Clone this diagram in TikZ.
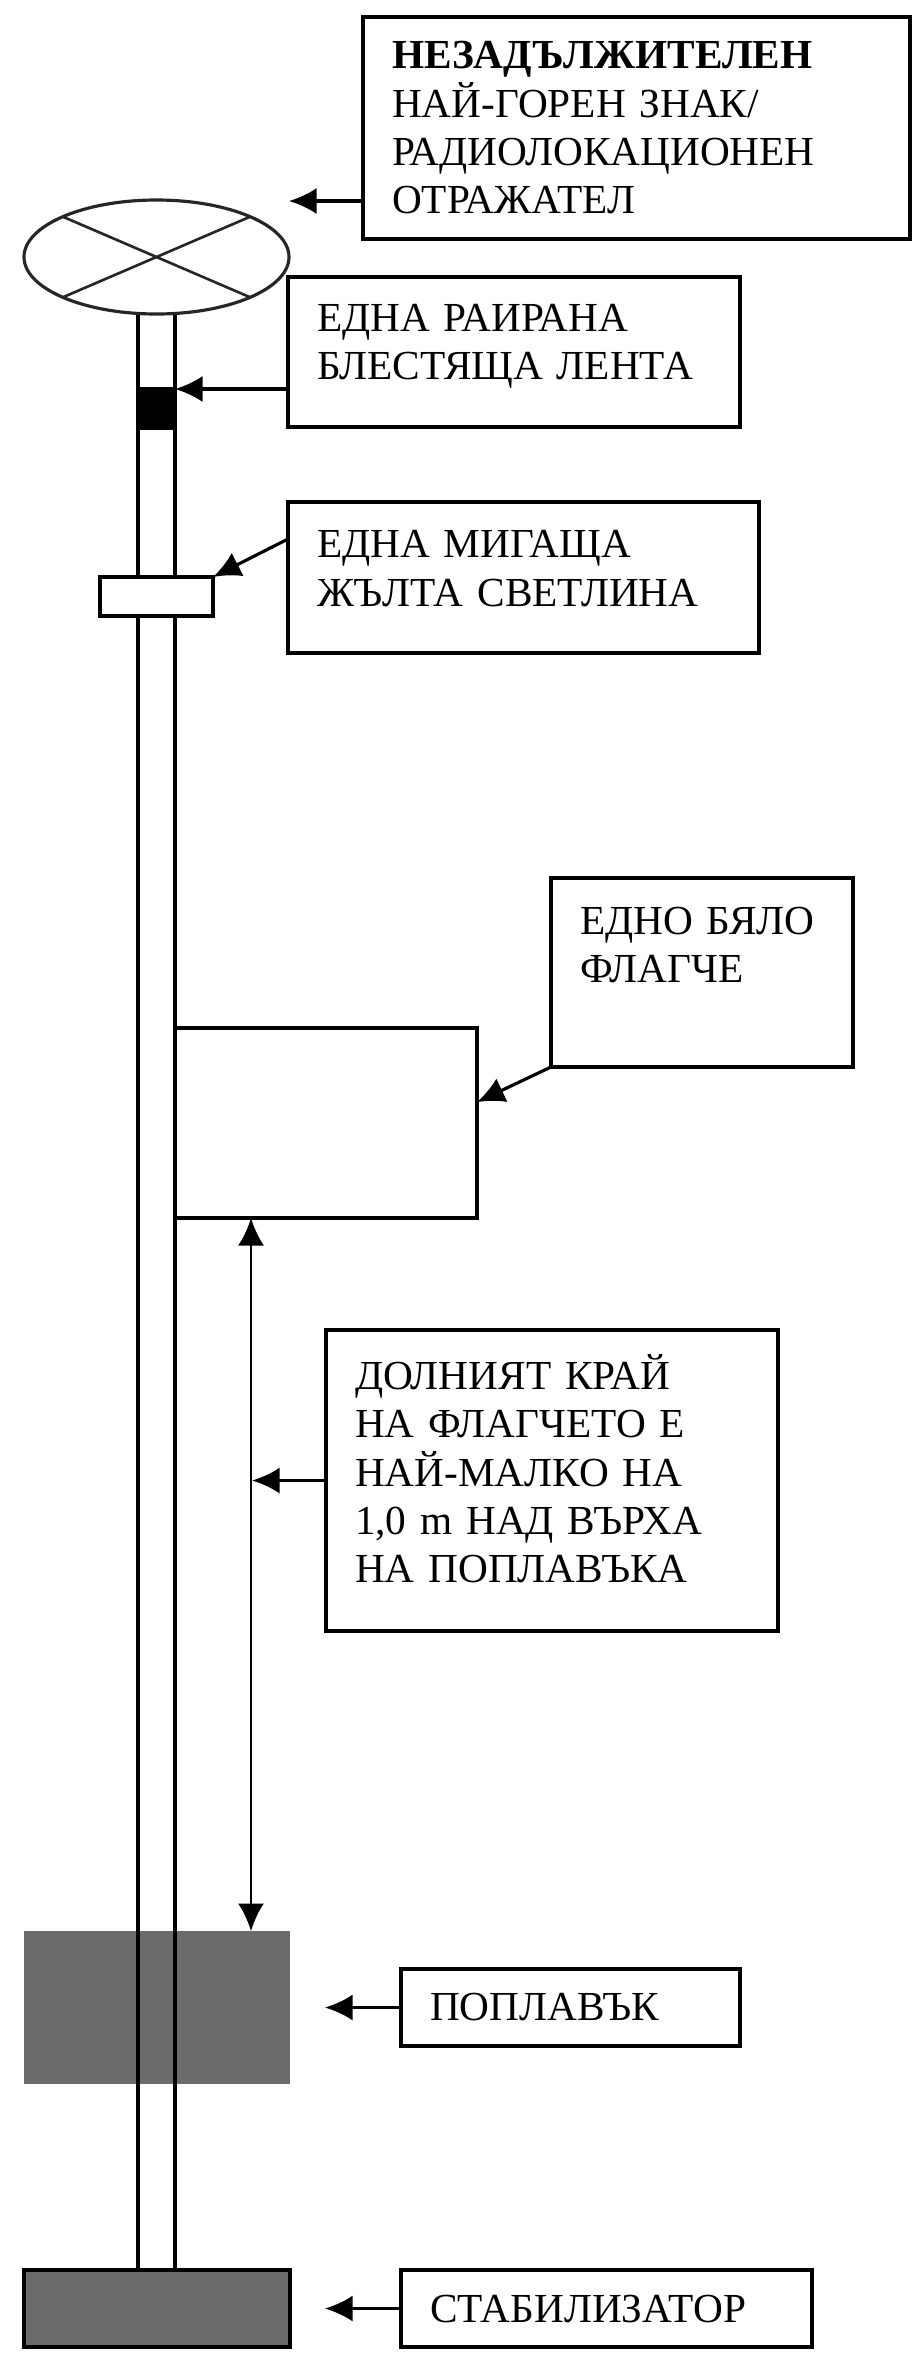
\documentclass[tikz,border=0pt]{standalone}
\usepackage{fontspec}
\setmainfont{Liberation Serif}
\usetikzlibrary{shapes.geometric, arrows.meta, calc}
\definecolor{BuoyGray}{HTML}{6B6B6B}
\newcommand{\lifttext}[1]{\rule[-#1]{0pt}{0pt}}
\tikzset{
    % Boxes with text
    labelbox/.style={
        rectangle,
        draw=black,
        fill=white,
        line width=1.8pt,
        outer sep=0pt,
        inner xsep=0.58cm,
        inner ysep=0pt,
        align=left,
        font=\fontsize{23.5}{27.5}\selectfont
    },
    % Parts of the mast
    partbox/.style={
        rectangle,
        draw=black,
        fill=white,
        line width=1.8pt,
        outer sep=0pt,
        inner sep=0pt
    },
    darkbox/.style={
        partbox,
        fill=BuoyGray
    },
    % Arrows
    arrow/.style={
        ->,
        >={Latex[length=0.55cm,width=0.52cm]},
        line width=1.8pt,
        draw=black
    }
}
\begin{document}
\begin{tikzpicture}
    \useasboundingbox (0,0) rectangle (18.42,-47.24);

    % Float goes under the mast
    \node[partbox, draw=none, fill=BuoyGray, minimum width=5.32cm, minimum height=3.06cm] (float) at (3.14,-40.15) {};
    \node[partbox, fill=none, minimum width=0.74cm, minimum height=39.4cm] (mast) at (3.13,-25.7) {};

    \node[partbox, ellipse, draw=black!85, minimum width=5.3cm, minimum height=2.28cm] (topmark) at (3.13,-5.14) {};
    \draw[line width=1.5pt, black!85] (topmark.north west) -- (topmark.south east);
    \draw[line width=1.5pt, black!85] (topmark.north east) -- (topmark.south west);

    \node[partbox, fill=black, minimum width=0.74cm, minimum height=0.78cm] (stripe) at (3.13,-8.17) {};
    \node[partbox, minimum width=2.26cm, minimum height=0.78cm] (lamp) at (3.13,-11.93) {};
    \node[partbox, minimum width=6.04cm, minimum height=3.8cm] (flag) at (6.52,-22.46) {};
    \node[darkbox, line width=2.4pt, minimum width=5.32cm, minimum height=1.54cm] (stabilizer) at (3.14,-46.17) {};

    % Free ends of the arrows
    \coordinate (topmarktip) at (5.78,-4.02);
    \coordinate (gaptop) at (5.02,-24.36);
    \coordinate (gapbottom) at (5.02,-38.62);
    \coordinate (gaptip) at (5.04,-29.61);
    \coordinate (floattip) at (6.5,-40.15);
    \coordinate (stabilizertip) at (6.5,-46.17);

    \node[labelbox, text width=9.78cm, minimum width=10.94cm, minimum height=4.44cm] (topbox) at (12.73,-2.56)
        {\textbf{НЕЗАДЪЛЖИТЕЛЕН}\\НАЙ-ГОРЕН ЗНАК/\\РАДИОЛОКАЦИОНЕН\\ОТРАЖАТЕЛ};
    \node[labelbox, text width=7.88cm, minimum width=9.04cm, minimum height=3cm] (stripebox) at (10.28,-7.04)
        {ЕДНА РАИРАНА\\БЛЕСТЯЩА ЛЕНТА\lifttext{0.4cm}};
    \node[labelbox, text width=8.26cm, minimum width=9.42cm, minimum height=3.02cm] (lampbox) at (10.47,-11.55)
        {ЕДНА МИГАЩА\\ЖЪЛТА СВЕТЛИНА\lifttext{0.36cm}};
    \node[labelbox, text width=4.88cm, minimum width=6.04cm, minimum height=3.78cm] (flagbox) at (14.04,-19.45)
        {ЕДНО БЯЛО\\ФЛАГЧЕ\lifttext{1.12cm}};
    \node[labelbox, text width=7.88cm, minimum width=9.04cm, minimum height=6.02cm] (gapbox) at (11.04,-29.61)
        {ДОЛНИЯТ КРАЙ\\НА ФЛАГЧЕТО Е\\НАЙ-МАЛКО НА\\1,0 m НАД ВЪРХА\\НА ПОПЛАВЪКА\lifttext{0.48cm}};
    \node[labelbox, text width=5.62cm, minimum width=6.78cm, minimum height=1.54cm] (floatbox) at (11.41,-40.15)
        {ПОПЛАВЪК};
    \node[labelbox, text width=7.06cm, minimum width=8.22cm, minimum height=1.54cm] (stabilizerbox) at (12.13,-46.17)
        {СТАБИЛИЗАТОР};

    \draw[arrow] (topbox.west |- topmarktip) -- (topmarktip);
    \draw[arrow] (stripebox.west |- stripe.north east) -- (stripe.north east);
    \draw[arrow] ($(lampbox.north west)!0.245!(lampbox.south west)$) -- (lamp.north east);
    \draw[arrow] (flagbox.south west) -- ($(flag.north east)!0.39!(flag.south east)$);
    \draw[arrow, <->, line width=1.5pt] (gaptop) -- (gapbottom);
    \draw[arrow] (gapbox.west) -- (gaptip);
    \draw[arrow] (floatbox.west) -- (floattip);
    \draw[arrow] (stabilizerbox.west) -- (stabilizertip);
\end{tikzpicture}
\end{document}
